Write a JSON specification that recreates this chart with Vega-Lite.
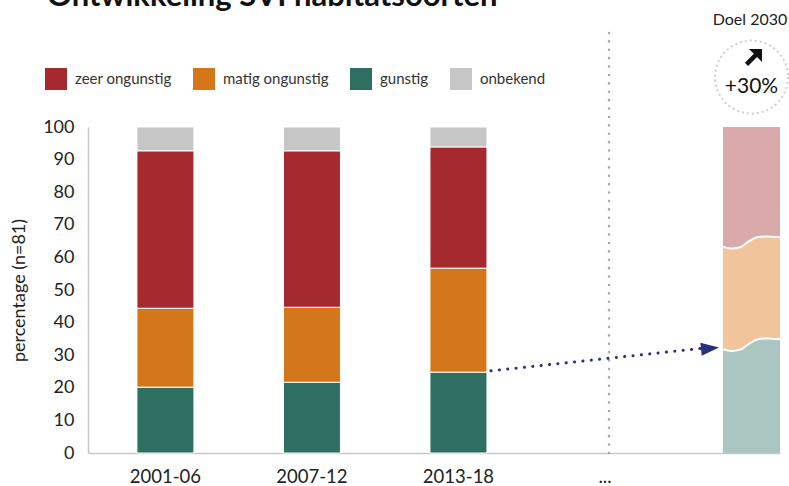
{
  "$schema": "https://vega.github.io/schema/vega-lite/v6.json",
  "width": 692,
  "height": 326,
  "autosize": "none",
  "padding": {"left": 88, "top": 127, "right": 9, "bottom": 33},
  "background": "white",
  "config": {"font": "Lato", "view": {"stroke": null}, "axisY": {"labelOverlap": false, "tickCount": 11}},
  "title": {
    "text": "Ontwikkeling SVI habitatsoorten",
    "anchor": "start",
    "frame": "group",
    "fontSize": 31,
    "fontWeight": "bold",
    "color": "#111111",
    "baseline": "alphabetic",
    "offset": 0,
    "dy": 25,
    "dx": -41
  },
  "resolve": {"scale": {"xOffset": "independent"}},
  "datasets": {
    "bars": [
      {"periode": "2001-06", "klasse": "gunstig", "pct": 20.2, "orde": 1},
      {"periode": "2001-06", "klasse": "matig ongunstig", "pct": 24.2, "orde": 2},
      {"periode": "2001-06", "klasse": "zeer ongunstig", "pct": 48.3, "orde": 3},
      {"periode": "2001-06", "klasse": "onbekend", "pct": 7.3, "orde": 4},
      {"periode": "2007-12", "klasse": "gunstig", "pct": 21.7, "orde": 1},
      {"periode": "2007-12", "klasse": "matig ongunstig", "pct": 23.0, "orde": 2},
      {"periode": "2007-12", "klasse": "zeer ongunstig", "pct": 48.0, "orde": 3},
      {"periode": "2007-12", "klasse": "onbekend", "pct": 7.3, "orde": 4},
      {"periode": "2013-18", "klasse": "gunstig", "pct": 24.8, "orde": 1},
      {"periode": "2013-18", "klasse": "matig ongunstig", "pct": 31.9, "orde": 2},
      {"periode": "2013-18", "klasse": "zeer ongunstig", "pct": 37.2, "orde": 3},
      {"periode": "2013-18", "klasse": "onbekend", "pct": 6.1, "orde": 4}
    ],
    "doelbalk": [
      {"periode": "Doel 2030", "pos": 0.0, "g": 31.8, "m": 63.3, "top": 100},
      {"periode": "Doel 2030", "pos": 0.15, "g": 31.3, "m": 62.7, "top": 100},
      {"periode": "Doel 2030", "pos": 0.3, "g": 31.7, "m": 63.1, "top": 100},
      {"periode": "Doel 2030", "pos": 0.45, "g": 33.4, "m": 64.9, "top": 100},
      {"periode": "Doel 2030", "pos": 0.6, "g": 34.8, "m": 66.2, "top": 100},
      {"periode": "Doel 2030", "pos": 0.75, "g": 35.1, "m": 66.4, "top": 100},
      {"periode": "Doel 2030", "pos": 1.0, "g": 34.9, "m": 66.2, "top": 100}
    ],
    "pijl": [{"van": "2013-18", "naar": "Doel 2030", "y1": 25.2, "y2": 32.1}],
    "scheiding": [{"periode": "...", "y1": 0, "y2": 131}],
    "doel": [{"periode": "Doel 2030", "kop": "Doel 2030", "yk": 132.7, "yc": 115.3, "ya": 121.2, "tekst": "+30%", "yt": 112.3}]
  },
  "layer": [
    {
      "data": {"name": "bars"},
      "mark": {"type": "bar", "stroke": "white", "strokeWidth": 1},
      "encoding": {
        "x": {
          "field": "periode",
          "type": "nominal",
          "scale": {
            "type": "band",
            "domain": ["2001-06", "2007-12", "2013-18", "...", "Doel 2030"],
            "paddingInner": 0.611,
            "paddingOuter": 0.167,
            "align": 1
          },
          "axis": {
            "title": null,
            "labelExpr": "datum.label == 'Doel 2030' ? '' : datum.label",
            "ticks": false,
            "domainColor": "#c8c8c8",
            "domainWidth": 1.5,
            "labelFontSize": 18.5,
            "labelPadding": 14,
            "labelColor": "#222222",
            "labelAngle": 0
          }
        },
        "y": {
          "field": "pct",
          "type": "quantitative",
          "stack": "zero",
          "scale": {"domain": [0, 100], "nice": false},
          "axis": {
            "title": "percentage (n=81)",
            "values": [0, 10, 20, 30, 40, 50, 60, 70, 80, 90, 100],
            "labelOverlap": false,
            "grid": false,
            "ticks": false,
            "domainColor": "#c8c8c8",
            "domainWidth": 1.5,
            "labelFontSize": 18,
            "labelPadding": 14,
            "labelColor": "#222222",
            "titleFontSize": 18,
            "titleFontWeight": "normal",
            "titleColor": "#222222",
            "titlePadding": 14
          }
        },
        "color": {
          "field": "klasse",
          "type": "nominal",
          "scale": {
            "domain": ["zeer ongunstig", "matig ongunstig", "gunstig", "onbekend"],
            "range": ["#a52a2f", "#d4761a", "#2e6f62", "#c6c6c6"]
          },
          "legend": {
            "title": null,
            "orient": "none",
            "direction": "horizontal",
            "legendX": -43,
            "legendY": -59,
            "symbolType": "square",
            "symbolSize": 484,
            "symbolStrokeWidth": 0,
            "symbolOpacity": 1,
            "labelFontSize": 15,
            "labelColor": "#333333",
            "labelOffset": 8,
            "columnPadding": 21
          }
        },
        "order": {"field": "orde", "type": "quantitative"}
      }
    },
    {
      "data": {"name": "doelbalk"},
      "mark": {"type": "area", "color": "#abc6c0", "interpolate": "monotone", "opacity": 1},
      "encoding": {
        "x": {"field": "periode", "type": "nominal"},
        "xOffset": {"field": "pos", "type": "quantitative"},
        "y": {"field": "g", "type": "quantitative"},
        "y2": {"datum": 0}
      }
    },
    {
      "data": {"name": "doelbalk"},
      "mark": {"type": "area", "color": "#f2c49c", "interpolate": "monotone", "opacity": 1},
      "encoding": {
        "x": {"field": "periode", "type": "nominal"},
        "xOffset": {"field": "pos", "type": "quantitative"},
        "y": {"field": "m", "type": "quantitative"},
        "y2": {"field": "g"}
      }
    },
    {
      "data": {"name": "doelbalk"},
      "mark": {"type": "area", "color": "#daa9aa", "interpolate": "monotone", "opacity": 1},
      "encoding": {
        "x": {"field": "periode", "type": "nominal"},
        "xOffset": {"field": "pos", "type": "quantitative"},
        "y": {"field": "top", "type": "quantitative"},
        "y2": {"field": "m"}
      }
    },
    {
      "data": {"name": "doelbalk"},
      "mark": {"type": "line", "color": "white", "strokeWidth": 2, "interpolate": "monotone"},
      "encoding": {
        "x": {"field": "periode", "type": "nominal"},
        "xOffset": {"field": "pos", "type": "quantitative"},
        "y": {"field": "g", "type": "quantitative"}
      }
    },
    {
      "data": {"name": "doelbalk"},
      "mark": {"type": "line", "color": "white", "strokeWidth": 2, "interpolate": "monotone"},
      "encoding": {
        "x": {"field": "periode", "type": "nominal"},
        "xOffset": {"field": "pos", "type": "quantitative"},
        "y": {"field": "m", "type": "quantitative"}
      }
    },
    {
      "data": {"name": "scheiding"},
      "mark": {"type": "rule", "color": "#a8a8a8", "strokeWidth": 2.5, "strokeDash": [0.1, 8.3], "strokeCap": "round", "xOffset": 4},
      "encoding": {
        "x": {"field": "periode", "type": "nominal"},
        "y": {"field": "y1", "type": "quantitative"},
        "y2": {"field": "y2"}
      }
    },
    {
      "data": {"name": "pijl"},
      "mark": {"type": "rule", "color": "#27307a", "strokeWidth": 3, "strokeDash": [0.1, 8.3], "strokeCap": "round", "xOffset": 32.5, "x2Offset": -50},
      "encoding": {
        "x": {"field": "van", "type": "nominal"},
        "x2": {"field": "naar"},
        "y": {"field": "y1", "type": "quantitative"},
        "y2": {"field": "y2"}
      }
    },
    {
      "data": {"name": "pijl"},
      "mark": {"type": "point", "shape": "M-1,-0.72L1,0L-1,0.72Z", "size": 324, "filled": true, "color": "#27307a", "opacity": 1, "angle": -6, "xOffset": -41.5},
      "encoding": {
        "x": {"field": "naar", "type": "nominal"},
        "y": {"field": "y2", "type": "quantitative"}
      }
    },
    {
      "data": {"name": "doel"},
      "mark": {"type": "point", "shape": "circle", "size": 5329, "filled": false, "stroke": "#cfcfcf", "strokeWidth": 2, "strokeDash": [2, 3], "opacity": 1},
      "encoding": {
        "x": {"field": "periode", "type": "nominal"},
        "y": {"field": "yc", "type": "quantitative"}
      }
    },
    {
      "data": {"name": "doel"},
      "mark": {"type": "point", "shape": "M1,-1L1,0.45L0.45,-0.1L-0.55,0.9L-0.9,0.55L0.1,-0.45L-0.45,-1Z", "size": 324, "filled": true, "color": "#111111", "opacity": 1, "xOffset": 1.5},
      "encoding": {
        "x": {"field": "periode", "type": "nominal"},
        "y": {"field": "ya", "type": "quantitative"}
      }
    },
    {
      "data": {"name": "doel"},
      "mark": {"type": "text", "fontSize": 21, "color": "#111111", "baseline": "middle", "align": "center"},
      "encoding": {
        "x": {"field": "periode", "type": "nominal"},
        "y": {"field": "yt", "type": "quantitative"},
        "text": {"field": "tekst"}
      }
    },
    {
      "data": {"name": "doel"},
      "mark": {"type": "text", "fontSize": 16, "color": "#222222", "baseline": "middle", "align": "center", "xOffset": -1.5},
      "encoding": {
        "x": {"field": "periode", "type": "nominal"},
        "y": {"field": "yk", "type": "quantitative"},
        "text": {"field": "kop"}
      }
    }
  ]
}
